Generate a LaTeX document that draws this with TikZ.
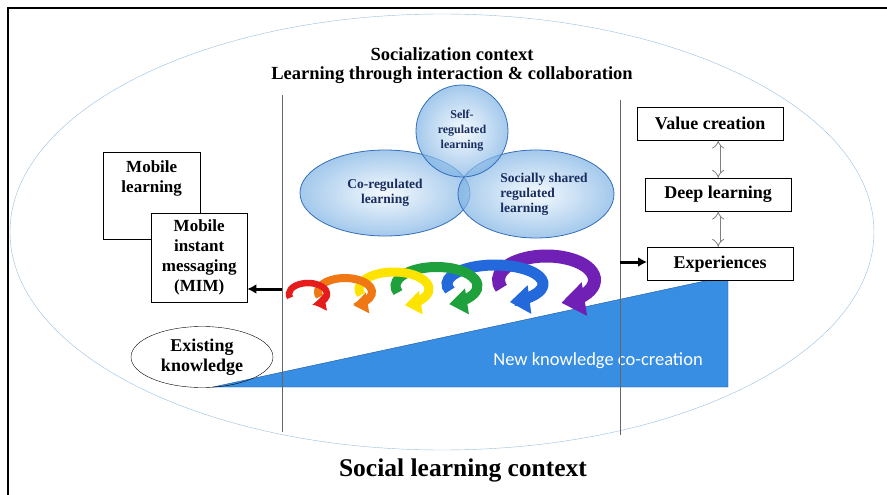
\documentclass[tikz,border=0pt]{standalone}
\usepackage{fontspec}
\setmainfont{Liberation Serif}
\newfontfamily\calfont{Carlito}
\usetikzlibrary{arrows.meta,positioning,shapes.geometric}
\definecolor{slcEllipse}{RGB}{150,190,225}
\definecolor{slcVennLine}{RGB}{50,110,185}
\definecolor{slcVennIn}{RGB}{240,247,253}
\definecolor{slcVennOut}{RGB}{125,178,228}
\definecolor{slcNavy}{RGB}{25,45,95}
\definecolor{slcWedge}{RGB}{56,142,226}
\definecolor{slcWedgeLine}{RGB}{30,85,160}
\definecolor{arRed}{RGB}{228,28,28}
\definecolor{arOrange}{RGB}{240,120,20}
\definecolor{arYellow}{RGB}{252,228,0}
\definecolor{arGreen}{RGB}{30,160,60}
\definecolor{arBlue}{RGB}{35,105,220}
\definecolor{arPurple}{RGB}{112,32,180}

\begin{document}
\begin{tikzpicture}[x=1pt,y=-1pt,
  bx/.style={draw,fill=white,align=center,inner sep=0pt,font=\bfseries\fontsize{17}{20}\selectfont},
  rb/.style={draw,fill=white,minimum width=146pt,minimum height=33pt,inner sep=0pt,font=\bfseries\fontsize{18}{20}\selectfont},
  venn/.style={draw=slcVennLine,thick,inner color=slcVennIn,outer color=slcVennOut,fill opacity=0.7,text opacity=1,text=slcNavy,align=center,inner sep=0pt},
  arrow/.style={-{Latex[length=9pt,width=10pt]},line width=3pt},
  dbl/.style={draw=gray,line width=0.8pt,double=white,double distance=3.5pt,{Implies}-{Implies}},
  curl/.style={line cap=butt,-{Triangle[length=0pt 1.8,width=0pt 2.5]}}
]
  \useasboundingbox (0,0) rectangle (887,495);
  % frame and outer context
  \draw[line width=2.5pt] (887,8) -- (8,8) -- (8,495);
  \draw[slcEllipse] (442,232) ellipse[x radius=432, y radius=218];
  \node[font=\bfseries\fontsize{18.5}{19}\selectfont,align=center] (soctitle) at (452,66) {Socialization context\\Learning through interaction \& collaboration};
  \node[font=\bfseries\fontsize{25.5}{28}\selectfont] (sltitle) at (463,470) {Social learning context};

  % new knowledge wedge
  \filldraw[fill=slcWedge,draw=slcWedgeLine] (213,387) -- (728,276) -- (728,387) -- cycle;
  \node[font=\calfont\fontsize{18.5}{20}\selectfont,text=white] (cocreate) at (598,361) {New knowledge co-creation};
  \draw[gray!80!black] (282,95) -- (282,432);
  \draw[gray!80!black] (620,100) -- (620,435);

  % regulation venn
  \node[venn,ellipse,minimum width=170pt,minimum height=86pt,font=\bfseries\fontsize{13.5}{15}\selectfont] (coreg) at (385,193) {Co-regulated\\learning};
  \node[venn,ellipse,minimum width=156pt,minimum height=88pt,align=left,font=\bfseries\fontsize{13.5}{15}\selectfont] (ssreg) at (536,194) {\hspace*{16pt}Socially shared\\\hspace*{16pt}regulated\\\hspace*{16pt}learning};
  \node[venn,circle,minimum size=92pt,font=\bfseries\fontsize{12}{15}\selectfont] (selfreg) at (462,131) {Self-\\regulated\\learning};

  % interaction cycles
  \foreach \cx/\cy/\rx/\ry/\w/\col in {546.5/280/48/24/13/arPurple,495/284/48/19/11/arBlue,436.5/286/41/19/10/arGreen,394/289/35/17/9/arYellow,345/292/27/14/8/arOrange,308/294/19/11/6.5/arRed}
    \draw[curl,draw=\col,line width=\w pt] (\cx,\cy) ++(-200:{\rx} and {\ry}) arc[start angle=-200,end angle=72,x radius=\rx,y radius=\ry];

  % left side
  \node[bx,minimum width=97pt,minimum height=87pt,anchor=north west,
    label={[align=center,anchor=north,yshift=-5pt,font=\bfseries\fontsize{17}{20}\selectfont]north:{Mobile\\learning}}] (mobl) at (103,152) {};
  \node[bx,minimum width=96pt,minimum height=89pt,anchor=north west] (mim) at (151,213) {Mobile\\instant\\messaging\\(MIM)};
  \node[draw,ellipse,minimum width=142pt,minimum height=61pt,inner sep=0pt,align=center,font=\bfseries\fontsize{18}{20}\selectfont] (exist) at (202,357) {Existing\\knowledge};

  % right side
  \node[rb,anchor=north west] (value) at (637,107) {Value creation};
  \node[rb,anchor=north west] (deep) at (645,178) {Deep learning};
  \node[rb,anchor=north west] (exper) at (647,247) {Experiences};

  \coordinate (lfoot) at (282,289);
  \coordinate (rfoot) at (620,262);
  \draw[arrow] (lfoot) -- (lfoot -| mim.east);
  \draw[arrow] (rfoot) -- (rfoot -| exper.west);
  \draw[dbl] (value.south -| deep.north) -- (deep.north);
  \draw[dbl] (deep.south) -- (exper.north -| deep.south);
\end{tikzpicture}
\end{document}
